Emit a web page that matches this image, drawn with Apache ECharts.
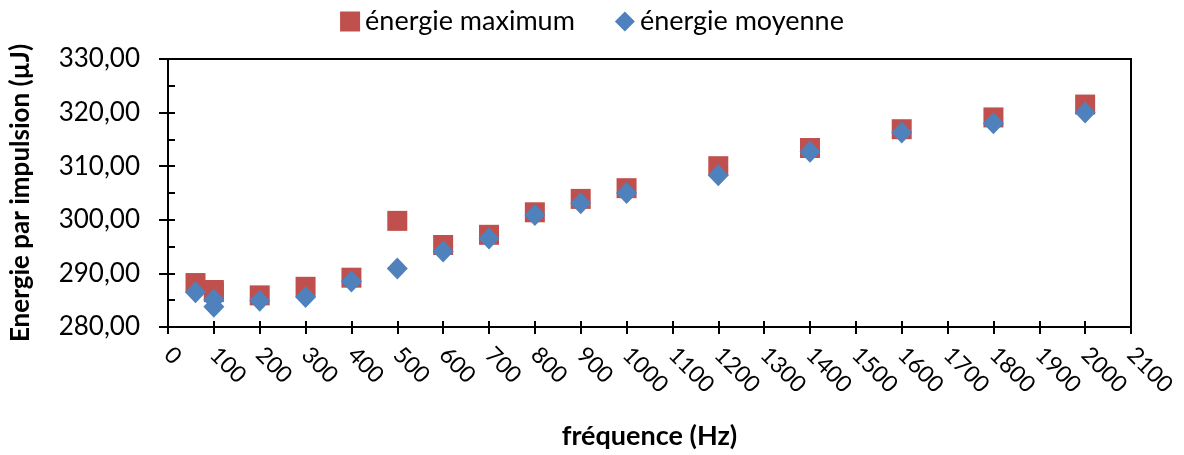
<!DOCTYPE html>
<html>
<head>
<meta charset="utf-8">
<script src="https://cdn.jsdelivr.net/npm/echarts@6/dist/echarts.min.js"></script>
<style>
html,body{margin:0;padding:0;background:#fff;}
#c{width:1184px;height:455px;}
</style>
</head>
<body>
<div id="c"></div>
<script>
var frequences = [60, 100, 100, 200, 300, 400, 500, 600, 700, 800, 900, 1000, 1200, 1400, 1600, 1800, 2000];
var energieMaximum = [288.2, 286.9, 286.5, 285.9, 287.5, 289.2, 299.8, 295.3, 297.2, 301.4, 303.9, 305.9, 310.0, 313.4, 316.9, 319.1, 321.5];
var energieMoyenne = [286.5, 285.1, 283.8, 284.9, 285.6, 288.5, 290.9, 294.1, 296.5, 300.9, 303.1, 305.0, 308.3, 312.7, 316.3, 318.0, 320.0];
var seriesNames = ['énergie maximum', 'énergie moyenne'];
var xTitle = 'fréquence (Hz)';
var yTitle = 'Energie par impulsion (µJ)';

function pairs(xs, ys){ return xs.map(function(x,i){ return [x, ys[i]]; }); }

var FONT = 'Lato';
var chart = echarts.init(document.getElementById('c'), null, {renderer:'canvas'});
var axisLine = {show:true, lineStyle:{color:'#000', width:2}};
chart.setOption({
  backgroundColor:'#fff',
  animation:false,
  legend:{
    top:3, left:'center',
    itemGap:40, itemWidth:20, itemHeight:20,
    textStyle:{fontFamily:FONT, fontSize:27, color:'#000'},
    data:[{name:seriesNames[0], icon:'rect'},{name:seriesNames[1], icon:'diamond'}]
  },
  grid:{left:168, right:53, top:59, bottom:126, show:true, borderColor:'#000', borderWidth:2, backgroundColor:'transparent'},
  xAxis:[{
    type:'value', min:0, max:2100, interval:100, position:'bottom',
    axisLine:axisLine,
    axisTick:{show:true, inside:false, length:7, lineStyle:{color:'#000', width:2}},
    axisLabel:{rotate:-45, margin:24, fontFamily:FONT, fontSize:23, color:'#000',
      formatter:function(v){ return String(v); }},
    splitLine:{show:false},
    name:xTitle, nameLocation:'middle', nameGap:96,
    nameTextStyle:{fontFamily:FONT, fontSize:27, fontWeight:'bold', color:'#000'}
  },{
    type:'value', min:0, max:2100, interval:100, position:'bottom',
    axisLine:{show:false},
    axisTick:{show:true, inside:true, length:6, lineStyle:{color:'#000', width:2}},
    axisLabel:{show:false}, splitLine:{show:false}
  }],
  yAxis:[{
    type:'value', min:280, max:330, interval:10, position:'left',
    axisLine:axisLine,
    axisTick:{show:true, inside:false, length:9, lineStyle:{color:'#000', width:2}},
    axisLabel:{margin:28, fontFamily:FONT, fontSize:26, color:'#000',
      formatter:function(v){ return v.toFixed(2).replace('.', ','); }},
    splitLine:{show:false},
    name:yTitle, nameLocation:'middle', nameRotate:90, nameGap:134,
    nameTextStyle:{fontFamily:FONT, fontSize:26, fontWeight:'bold', color:'#000'}
  },{
    type:'value', min:280, max:330, interval:10, position:'left',
    axisLine:{show:false},
    axisTick:{show:true, inside:true, length:7, lineStyle:{color:'#000', width:2}},
    minorTick:{show:true, splitNumber:2, length:7, lineStyle:{color:'#000', width:2}},
    axisLabel:{show:false}, splitLine:{show:false}
  }],
  series:[{
    name:seriesNames[0], type:'scatter', symbol:'rect', symbolSize:20,
    itemStyle:{color:'#C0504D', opacity:1},
    data:pairs(frequences, energieMaximum)
  },{
    name:seriesNames[1], type:'scatter', symbol:'diamond', symbolSize:[21,22],
    itemStyle:{color:'#4F81BD', opacity:1},
    data:pairs(frequences, energieMoyenne)
  }]
});
</script>
</body>
</html>
